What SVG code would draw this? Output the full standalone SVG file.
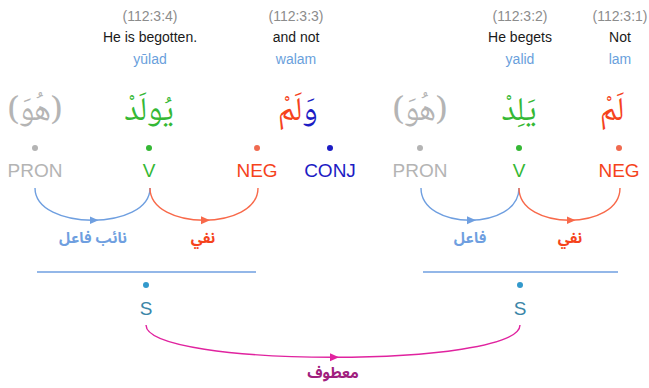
<svg xmlns="http://www.w3.org/2000/svg" width="649" height="388" viewBox="0 0 649 388">
<style>
text{font-family:"Liberation Sans",Arial,sans-serif;text-anchor:middle}
.loc{font-size:14px;fill:#8c8c8c}
.en{font-size:14px;fill:#1a1a1a}
.tr{font-size:14px;fill:#6a9fdc}
.ar{font-family:"Noto Naskh Arabic","Noto Sans Arabic","DejaVu Sans",sans-serif;font-size:33px}
.pos{font-size:19px}
.rel{font-family:"Noto Sans Arabic","DejaVu Sans",sans-serif;font-size:15px;font-weight:bold}
.pron{fill:#b4b4b4}
.v{fill:#35b835}
.neg{fill:#f5431c}
.conj{fill:#1c1cc4}
.s{fill:#3a86a8}
.arc{fill:none;stroke-width:1.4}
.ab{stroke:#6f9fe0;marker-mid:url(#mb)}
.ar2{stroke:#f8694a;marker-mid:url(#mr)}
.am{stroke:#e0239f;marker-mid:url(#mm)}
.bar{stroke:#6f9fe0;stroke-width:1.4}
</style>
<defs>
<marker id="mb" markerWidth="10" markerHeight="10" refX="3" refY="5" orient="auto" markerUnits="userSpaceOnUse"><path d="M0,1 L9,5 L0,9 Z" fill="#6f9fe0"/></marker>
<marker id="mr" markerWidth="10" markerHeight="10" refX="3" refY="5" orient="auto" markerUnits="userSpaceOnUse"><path d="M0,1 L9,5 L0,9 Z" fill="#f8694a"/></marker>
<marker id="mm" markerWidth="10" markerHeight="10" refX="3" refY="5" orient="auto" markerUnits="userSpaceOnUse"><path d="M0,1 L9,5 L0,9 Z" fill="#e0239f"/></marker>
</defs>

<g id="header">
<text class="loc" x="150" y="21">(112:3:4)</text>
<text class="en" x="150" y="42">He is begotten.</text>
<text class="tr" x="150" y="64">yūlad</text>
<text class="loc" x="296" y="21">(112:3:3)</text>
<text class="en" x="296" y="42">and not</text>
<text class="tr" x="296" y="64">walam</text>
<text class="loc" x="520" y="21">(112:3:2)</text>
<text class="en" x="520" y="42">He begets</text>
<text class="tr" x="520" y="64">yalid</text>
<text class="loc" x="620" y="21">(112:3:1)</text>
<text class="en" x="620" y="42">Not</text>
<text class="tr" x="620" y="64">lam</text>
</g>

<g id="pron1">
<text class="ar pron" x="35" y="120">(هُوَ)</text>
<circle class="pron" cx="35" cy="148" r="3"/>
<text class="pos pron" x="35" y="177">PRON</text>
</g>
<g id="v1">
<text class="ar v" x="149" y="120">يُولَدْ</text>
<circle class="v" cx="149" cy="148" r="3"/>
<text class="pos v" x="149" y="177">V</text>
</g>
<g id="neg1">
<text class="ar neg" x="290" y="120">لَمْ</text>
<circle cx="257" cy="148" r="3" fill="#f06a50"/>
<text class="pos neg" x="257" y="177">NEG</text>
</g>
<g id="conj1">
<text class="ar conj" x="310" y="120">وَ</text>
<circle class="conj" cx="330" cy="148" r="3"/>
<text class="pos conj" x="330" y="177">CONJ</text>
</g>
<g id="pron2">
<text class="ar pron" x="420" y="120">(هُوَ)</text>
<circle class="pron" cx="420" cy="148" r="3"/>
<text class="pos pron" x="420" y="177">PRON</text>
</g>
<g id="v2">
<text class="ar v" x="519" y="120">يَلِدْ</text>
<circle class="v" cx="519" cy="148" r="3"/>
<text class="pos v" x="519" y="177">V</text>
</g>
<g id="neg2">
<text class="ar neg" x="612" y="120">لَمْ</text>
<circle cx="619" cy="148" r="3" fill="#f06a50"/>
<text class="pos neg" x="619" y="177">NEG</text>
</g>
<g id="s1">
<line class="bar" x1="37" y1="272" x2="256" y2="272"/>
<circle cx="146" cy="285" r="3" fill="#3399cc"/>
<text class="pos s" x="146" y="315">S</text>
</g>
<g id="s2">
<line class="bar" x1="423" y1="272" x2="618" y2="272"/>
<circle cx="520" cy="285" r="3" fill="#3399cc"/>
<text class="pos s" x="520" y="315">S</text>
</g>

<g id="connectors">
<path class="arc ab" d="M35,188 C35,209.5 63.75,220.25 92.5,220.25 C121.25,220.25 150,209.5 150,188"/>
<path class="arc ar2" d="M150,188 C150,209.5 177,220.25 204,220.25 C231,220.25 258,209.5 258,188"/>
<path class="arc ab" d="M421,188 C421,209.5 445.5,220.25 470,220.25 C494.5,220.25 519,209.5 519,188"/>
<path class="arc ar2" d="M519,188 C519,209.5 544.25,220.25 569.5,220.25 C594.75,220.25 620,209.5 620,188"/>
<path class="arc am" d="M146,325 C146,346.5 239.5,357.25 333,357.25 C426.5,357.25 520,346.5 520,325"/>
<text class="rel" x="93" y="243" fill="#6f9fe0">نائب فاعل</text>
<text class="rel" x="203" y="243" fill="#f5431c">نفي</text>
<text class="rel" x="470" y="243" fill="#6f9fe0">فاعل</text>
<text class="rel" x="570" y="243" fill="#f5431c">نفي</text>
<text class="rel" x="333" y="378" fill="#a0207e" font-weight="normal">معطوف</text>
</g>
</svg>
